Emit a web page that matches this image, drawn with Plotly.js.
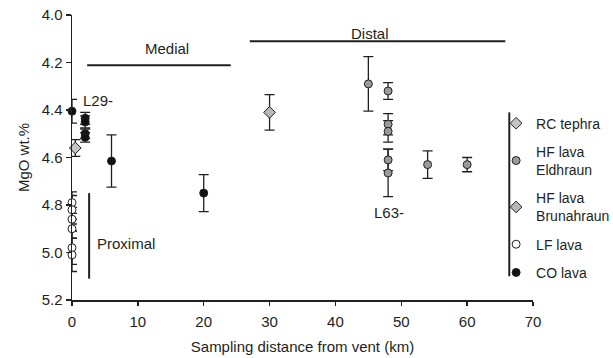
<!DOCTYPE html>
<html>
<head>
<meta charset="utf-8">
<script src="https://cdn.plot.ly/plotly-3.0.1.min.js"></script>
<style>html,body{margin:0;padding:0;background:#fff;}#chart{width:613px;height:358px;}</style>
</head>
<body>
<div id="chart"></div>
<script>
// ---- data ----
const rcX = [0.5];
const rcY = [4.56];
const rcErr = [0.035];

const eldX = [45, 48, 48, 48, 48, 48, 54, 60];
const eldY = [4.29, 4.32, 4.46, 4.49, 4.61, 4.665, 4.63, 4.63];
const eldErr = [0.115, 0.035, 0.045, 0.045, 0.045, 0.1, 0.058, 0.03];

const bruX = [30];
const bruY = [4.41];
const bruErr = [0.075];

const lfX = [0, 0, 0, 0, 0, 0];
const lfY = [4.79, 4.82, 4.86, 4.90, 4.98, 5.01];
const lfErr = [0.045, 0.06, 0.05, 0.04, 0.07, 0.07];

const coX = [0, 2, 2, 2, 2, 6, 20];
const coY = [4.405, 4.435, 4.45, 4.50, 4.515, 4.615, 4.75];
const coErr = [0.05, 0.025, 0.025, 0.02, 0.02, 0.11, 0.078];

const seriesNames = ['RC tephra', 'HF lava<br>Eldhraun', 'HF lava<br>Brunahraun', 'LF lava', 'CO lava'];
const xTicks = [0, 10, 20, 30, 40, 50, 60, 70];
const yTicks = [4.0, 4.2, 4.4, 4.6, 4.8, 5.0, 5.2];

// zone markers (data coordinates)
const medial = {x0: 2.3, x1: 24.1, y: 4.212, label: 'Medial', lx: 14.5, ly: 4.14};
const distal = {x0: 27, x1: 65.8, y: 4.11, label: 'Distal', lx: 45.3, ly: 4.076};
const proximal = {x: 2.6, y0: 4.75, y1: 5.11, label: 'Proximal', lx: 3.5, ly: 4.96};
const legendBar = {x: 66.4, y0: 4.41, y1: 5.10};

// ---- styles ----
const ink = '#231f20';
const errStyle = (arr) => ({type: 'data', array: arr, visible: true, color: ink, thickness: 1.3, width: 5});

function trace(x, y, err, name, symbol, fill, group) {
  return {
    x: x, y: y, name: name, type: 'scatter', mode: 'markers',
    legendgroup: group, cliponaxis: false,
    error_y: errStyle(err),
    marker: {symbol: symbol, size: symbol === 'diamond' ? 9 : 8, color: fill, line: {color: ink, width: 1}}
  };
}

const data = [
  trace(rcX, rcY, rcErr, seriesNames[0], 'diamond', '#c4c4c4', 'g1'),
  trace(eldX, eldY, eldErr, seriesNames[1], 'circle', '#9a9a9a', 'g2'),
  trace(bruX, bruY, bruErr, seriesNames[2], 'diamond', '#b8b8b8', 'g3'),
  trace(lfX, lfY, lfErr, seriesNames[3], 'circle', '#ffffff', 'g4'),
  trace(coX, coY, coErr, seriesNames[4], 'circle', '#111111', 'g5')
];

const lineShape = (x0, y0, x1, y1) => ({type: 'line', xref: 'x', yref: 'y', x0: x0, y0: y0, x1: x1, y1: y1, line: {color: ink, width: 2}});

const layout = {
  width: 613, height: 358,
  margin: {l: 72, r: 80, t: 15, b: 58, autoexpand: false},
  paper_bgcolor: '#fff', plot_bgcolor: '#fff',
  font: {family: 'Arial, Liberation Sans, sans-serif', size: 15, color: ink},
  showlegend: true,
  legend: {x: 0.92, xanchor: 'left', y: 0.675, yanchor: 'top', bgcolor: 'rgba(0,0,0,0)',
           tracegroupgap: 7, itemwidth: 30, font: {size: 14, color: ink}},
  xaxis: {
    range: [0, 70], tickvals: xTicks, ticktext: xTicks.map(String),
    ticks: 'outside', ticklen: 4, tickwidth: 1.5, tickcolor: ink, ticklabelstandoff: 3,
    showline: true, linecolor: ink, linewidth: 1.5, showgrid: false, zeroline: false,
    title: {text: 'Sampling distance from vent (km)', font: {size: 15}, standoff: 13}
  },
  yaxis: {
    range: [5.2, 4.0], tickvals: yTicks, ticktext: yTicks.map(v => v.toFixed(1)),
    ticks: 'outside', ticklen: 5, tickwidth: 1.5, tickcolor: ink,
    showline: true, linecolor: ink, linewidth: 1.5, showgrid: false, zeroline: false,
    title: {text: 'MgO wt.%', font: {size: 15}, standoff: 8}
  },
  shapes: [
    lineShape(medial.x0, medial.y, medial.x1, medial.y),
    lineShape(distal.x0, distal.y, distal.x1, distal.y),
    lineShape(proximal.x, proximal.y0, proximal.x, proximal.y1),
    lineShape(legendBar.x, legendBar.y0, legendBar.x, legendBar.y1)
  ],
  annotations: [
    {x: medial.lx, y: medial.ly, text: medial.label, showarrow: false, xref: 'x', yref: 'y', font: {size: 15}},
    {x: distal.lx, y: distal.ly, text: distal.label, showarrow: false, xref: 'x', yref: 'y', font: {size: 15}},
    {x: proximal.lx, y: proximal.ly, text: proximal.label, showarrow: false, xref: 'x', yref: 'y', xanchor: 'left', font: {size: 15}},
    {x: 1.4, y: 4.36, text: 'L29-', showarrow: false, xref: 'x', yref: 'y', xanchor: 'left', font: {size: 15}},
    {x: 45.6, y: 4.83, text: 'L63-', showarrow: false, xref: 'x', yref: 'y', xanchor: 'left', font: {size: 15}}
  ]
};

Plotly.newPlot('chart', data, layout, {displayModeBar: false, staticPlot: true});
</script>
</body>
</html>
